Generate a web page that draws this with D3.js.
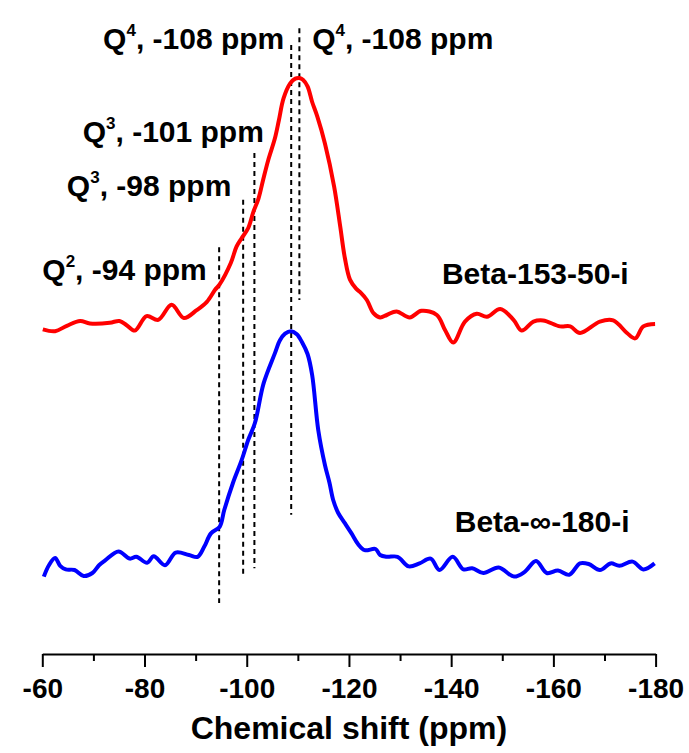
<!DOCTYPE html>
<html><head><meta charset="utf-8">
<script src="https://cdn.jsdelivr.net/npm/d3@7"></script>
<style>
html,body{margin:0;padding:0;background:#fff;}
svg text{font-family:"Liberation Sans",Arial,sans-serif;font-weight:bold;fill:#000;}
</style></head>
<body><svg id="chart" width="689" height="753"></svg>
<script>
// ---- data (ppm, relative intensity in arbitrary units) ----
const redSeries = [
[-60.1,54.1],[-62.5,53.8],[-64.8,54.7],[-67.4,55.5],[-69.3,55.1],[-73.2,55.2],[-75.1,55.5],[-76.5,54.8],
[-78.1,53.9],[-80.4,56.3],[-82.7,55.7],[-85.3,58.2],[-87.7,56.0],[-90.2,57.3],[-92.2,58.7],[-93.8,60.7],
[-94.7,61.6],[-96.9,65.2],[-98.0,67.9],[-99.0,69.3],[-100.3,71.0],[-101.3,73.7],[-102.3,75.9],[-103.2,79.0],
[-104.2,82.3],[-105.5,85.9],[-106.3,89.0],[-107.2,92.6],[-108.5,95.1],[-109.5,95.9],[-110.3,96.0],[-111.0,95.7],
[-111.9,94.6],[-112.8,92.0],[-113.8,89.6],[-115.3,85.1],[-117.1,77.9],[-118.3,71.2],[-119.2,66.0],[-120.2,62.4],
[-121.4,60.9],[-122.2,60.3],[-123.5,59.0],[-124.8,56.8],[-126.1,56.1],[-127.4,56.5],[-129.3,57.1],[-131.9,56.1],
[-134.2,57.2],[-137.2,56.5],[-138.8,54.0],[-140.4,51.9],[-142.7,55.4],[-145.0,56.7],[-147.0,56.2],[-149.6,57.5],
[-152.2,55.7],[-153.8,53.9],[-156.1,55.4],[-158.0,55.6],[-161.3,54.6],[-163.3,54.6],[-165.2,53.5],[-169.1,55.4],
[-171.7,55.6],[-174.4,53.5],[-176.0,52.6],[-177.6,54.6],[-179.9,55.0]
];
const blueSeries = [
[-60.3,12.9],[-61.3,14.8],[-62.5,16.0],[-63.5,14.7],[-64.6,14.1],[-66.3,14.0],[-68.1,13.0],[-69.8,13.5],
[-71.1,14.8],[-72.3,15.6],[-74.9,17.1],[-77.1,15.9],[-78.4,16.2],[-80.5,15.2],[-81.8,16.3],[-84.0,14.8],
[-86.1,16.9],[-88.7,16.5],[-90.4,16.2],[-91.7,17.9],[-93.0,20.1],[-94.7,21.2],[-95.6,24.0],[-97.3,28.5],
[-99.0,32.3],[-100.3,35.7],[-101.6,38.5],[-103.3,45.1],[-105.5,50.1],[-106.5,52.3],[-107.5,53.4],[-108.7,53.8],
[-109.8,53.3],[-110.8,52.0],[-111.9,50.0],[-112.8,46.5],[-114.0,37.3],[-115.3,31.5],[-116.2,28.5],[-116.9,25.7],
[-117.9,23.5],[-119.2,21.8],[-120.5,20.1],[-121.8,18.3],[-123.1,17.3],[-125.2,17.5],[-126.1,16.5],[-127.4,16.2],
[-129.5,16.2],[-131.7,14.6],[-133.8,15.1],[-136.0,15.9],[-137.7,14.0],[-140.3,16.2],[-142.4,14.1],[-144.1,14.3],
[-146.3,13.5],[-149.3,14.4],[-152.3,12.9],[-154.4,13.7],[-156.6,15.5],[-158.7,13.5],[-160.9,13.9],[-163.1,13.2],
[-165.2,15.1],[-166.9,15.0],[-169.1,14.0],[-171.2,15.1],[-172.9,14.7],[-175.5,15.4],[-177.6,14.1],[-179.8,15.1]
];
// dashed marker lines: position (ppm), bottom and top (intensity units)
const markerPpm    = [-94.6, -99.3, -101.5, -108.7, -110.3];
const markerBottom = [8.5, 12.8, 14.3, 23.2, 59.0];
const markerTop    = [67.8, 75.7, 83.5, 101.5, 104.3];
// annotation labels: Q-species, superscript, text, anchor ppm, intensity
const annoMain  = ["Q", "Q", "Q", "Q", "Q"];
const annoSup   = ["4", "4", "3", "3", "2"];
const annoText  = [", -108 ppm", ", -108 ppm", ", -101 ppm", ", -98 ppm", ", -94 ppm"];
const annoPpm   = [-71.9, -112.8, -67.9, -64.8, -60.0];
const annoVal   = [100.9, 100.9, 85.3, 76.4, 62.3];
const seriesNames = ["Beta-153-50-i", "Beta-\u221E-180-i"];
const seriesLabelPpm = [-138.2, -140.7];
const seriesLabelVal = [61.6, 20.4];
const majorTicks = [-60, -80, -100, -120, -140, -160, -180];
const majorTickLabels = ["-60", "-80", "-100", "-120", "-140", "-160", "-180"];
const minorTicks = [-70, -90, -110, -130, -150, -170];
const xTitle = "Chemical shift (ppm)";

// ---- drawing ----
const svg = d3.select("#chart");
const x = d3.scaleLinear().domain([-60, -180]).range([42.3, 655.6]);
const y = d3.scaleLinear().domain([0, 100]).range([654, 54]);

svg.append("rect").attr("width", 689).attr("height", 753).attr("fill", "#fff");

// dashed markers
const markers = markerPpm.map((p, i) => ({p, b: markerBottom[i], t: markerTop[i]}));
svg.append("g").selectAll("line").data(markers).join("line")
  .attr("x1", d => x(d.p)).attr("x2", d => x(d.p))
  .attr("y1", d => y(d.t)).attr("y2", d => y(d.b))
  .attr("stroke", "#000").attr("stroke-width", 2).attr("stroke-dasharray", "5,4");

const line = d3.line().x(d => x(d[0])).y(d => y(d[1])).curve(d3.curveCatmullRom.alpha(0.5));
svg.append("path").datum(redSeries).attr("d", line)
  .attr("fill", "none").attr("stroke", "#ff0000").attr("stroke-width", 4).attr("stroke-linejoin", "round");
svg.append("path").datum(blueSeries).attr("d", line)
  .attr("fill", "none").attr("stroke", "#0000ff").attr("stroke-width", 4).attr("stroke-linejoin", "round");

// axis
const axis = d3.axisBottom(x).tickValues(majorTicks).tickSize(13).tickSizeOuter(0).tickPadding(11)
  .tickFormat((d, i) => majorTickLabels[i]);
const gA = svg.append("g").attr("transform", "translate(0,654)").call(axis);
gA.select(".domain").attr("stroke-width", 2).attr("stroke", "#000");
gA.selectAll(".tick line").attr("stroke-width", 2).attr("stroke", "#000");
gA.selectAll(".tick text").attr("font-size", 28).style("font-family", "'Liberation Sans',Arial,sans-serif").style("font-weight", "bold");
const minorAxis = d3.axisBottom(x).tickValues(minorTicks).tickSize(7).tickSizeOuter(0).tickFormat("");
const gM = svg.append("g").attr("transform", "translate(0,654)").call(minorAxis);
gM.select(".domain").remove();
gM.selectAll(".tick line").attr("stroke-width", 2).attr("stroke", "#000");

svg.append("text").attr("x", x(-120)).attr("y", 739).attr("text-anchor", "middle")
  .attr("font-size", 32).text(xTitle);

// annotations
annoMain.forEach((m, i) => {
  const t = svg.append("text").attr("x", x(annoPpm[i])).attr("y", y(annoVal[i])).attr("font-size", 30);
  t.append("tspan").text(m);
  t.append("tspan").attr("font-size", 17).attr("dy", -13).text(annoSup[i]);
  t.append("tspan").attr("dy", 13).text(annoText[i]);
});
seriesNames.forEach((n, i) => {
  svg.append("text").attr("x", x(seriesLabelPpm[i])).attr("y", y(seriesLabelVal[i]))
    .attr("font-size", 30).text(n);
});
</script></body></html>
